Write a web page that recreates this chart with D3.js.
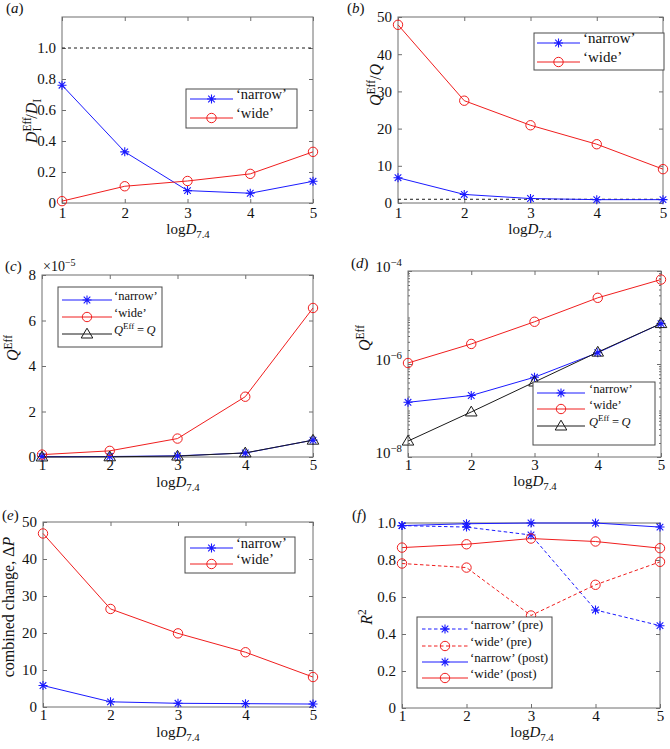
<!DOCTYPE html>
<html><head><meta charset="utf-8">
<script src="https://cdn.jsdelivr.net/npm/d3@7"></script>
<style>
body{margin:0;background:#fff}
svg{display:block}
text{font-family:"Liberation Serif","Times New Roman",serif;fill:#111}
</style>
</head><body>
<svg id="chart" width="670" height="749"></svg>
<script>
// ---------- data ----------
const xValues = [1, 2, 3, 4, 5];
const xTickLabels = ["1", "2", "3", "4", "5"];

// (a) D_I^Eff / D_I
const aNarrow = [0.76, 0.33, 0.08, 0.063, 0.14];
const aWide = [0.012, 0.108, 0.142, 0.188, 0.33];
const aRef = 1.0;
const aYTicks = [0, 0.2, 0.4, 0.6, 0.8, 1.0];
const aYTickLabels = ["0", "0.2", "0.4", "0.6", "0.8", "1.0"];

// (b) Q^Eff / Q
const bNarrow = [6.8, 2.3, 1.2, 0.9, 0.9];
const bWide = [47.9, 27.5, 20.9, 15.8, 9.1];
const bRef = 1.0;
const bYTicks = [0, 10, 20, 30, 40, 50];
const bYTickLabels = ["0", "10", "20", "30", "40", "50"];

// (c) and (d) Q^Eff
const qNarrow = [1.5e-7, 2.1e-7, 5.2e-7, 1.75e-6, 7.4e-6];
const qWide = [1.05e-6, 2.7e-6, 8.1e-6, 2.65e-5, 6.55e-5];
const qEqual = [2.2e-8, 9.3e-8, 4.1e-7, 1.8e-6, 7.4e-6];
const cYTicks = [0, 2e-5, 4e-5, 6e-5, 8e-5];
const cYTickLabels = ["0", "2", "4", "6", "8"];
const dYTicks = [1e-8, 1e-6, 1e-4];
const dYTickExponents = ["\u22128", "\u22126", "\u22124"];

// (e) combined change
const eNarrow = [5.8, 1.4, 1.0, 0.9, 0.8];
const eWide = [46.9, 26.5, 19.9, 14.8, 8.1];
const eYTicks = [0, 10, 20, 30, 40, 50];
const eYTickLabels = ["0", "10", "20", "30", "40", "50"];

// (f) R^2
const fNarrowPre = [0.986, 0.978, 0.935, 0.53, 0.445];
const fWidePre = [0.781, 0.759, 0.50, 0.666, 0.79];
const fNarrowPost = [0.986, 0.996, 1.0, 1.0, 0.978];
const fWidePost = [0.867, 0.885, 0.916, 0.90, 0.864];
const fYTicks = [0, 0.2, 0.4, 0.6, 0.8, 1.0];
const fYTickLabels = ["0", "0.2", "0.4", "0.6", "0.8", "1.0"];

// ---------- styles ----------
const BLUE = "#1a1aff", RED = "#f01e1e", BLACK = "#1a1a1a";
const FRAME = "#6e6e6e";
const svg = d3.select("#chart");

function rich(textSel, parts, size) {
  let shift = 0;
  let lastSupLen = 0;
  parts.forEach(p => {
    let target = 0, fs = size;
    if (p.sup) { target = -0.38 * size; fs = size * 0.72; }
    if (p.sub) { target = 0.28 * size; fs = size * 0.72; }
    const ts = textSel.append("tspan").text(p.t)
      .attr("dy", (target - shift).toFixed(2))
      .attr("font-size", fs.toFixed(2));
    if (p.i) ts.attr("font-style", "italic");
    if (p.stackBack) ts.attr("dx", (-lastSupLen).toFixed(2));
    if (p.advance) ts.attr("dx", p.advance);
    if (p.sup) lastSupLen = ts.node().getComputedTextLength();
    shift = target;
  });
  return textSel;
}

function marker(g, type, color, x, y) {
  if (type === "star") {
    const s = 4.5, d = 3.3;
    g.append("path")
      .attr("d", `M${x - s},${y}L${x + s},${y}M${x},${y - s}L${x},${y + s}M${x - d},${y - d}L${x + d},${y + d}M${x - d},${y + d}L${x + d},${y - d}`)
      .attr("stroke", color).attr("stroke-width", 1.1).attr("fill", "none");
    g.append("circle").attr("cx", x).attr("cy", y).attr("r", 1.3).attr("fill", color);
  } else if (type === "circle") {
    g.append("circle").attr("cx", x).attr("cy", y).attr("r", 4.7)
      .attr("stroke", color).attr("stroke-width", 1).attr("fill", "none");
  } else if (type === "tri") {
    g.append("path")
      .attr("d", `M${x},${y - 5.8}L${x + 5.8},${y + 4}L${x - 5.8},${y + 4}Z`)
      .attr("stroke", color).attr("stroke-width", 1).attr("fill", "none");
  }
}

function panel(cfg) {
  const g = svg.append("g");
  const x = d3.scaleLinear().domain([1, 5]).range([cfg.L, cfg.R]);
  const y = (cfg.log ? d3.scaleLog() : d3.scaleLinear()).domain(cfg.yDomain).range([cfg.B, cfg.T]);
  const fs = cfg.tickFont || 15;

  // frame
  g.append("rect").attr("x", cfg.L).attr("y", cfg.T)
    .attr("width", cfg.R - cfg.L).attr("height", cfg.B - cfg.T)
    .attr("fill", "none").attr("stroke", FRAME).attr("stroke-width", 1);

  // bottom axis
  const xb = g.append("g").attr("transform", `translate(0,${cfg.B})`)
    .call(d3.axisBottom(x).tickValues(xValues).tickSize(-4).tickPadding(cfg.xPad)
      .tickFormat((d, i) => xTickLabels[i]));
  g.append("g").attr("transform", `translate(0,${cfg.T})`)
    .call(d3.axisTop(x).tickValues(xValues).tickSize(-4).tickFormat(""));
  // left axis
  const yl = g.append("g").attr("transform", `translate(${cfg.L},0)`)
    .call(d3.axisLeft(y).tickValues(cfg.yTicks).tickSize(-4).tickPadding(6)
      .tickFormat(cfg.yLabels ? (d, i) => cfg.yLabels[i] : ""));
  g.append("g").attr("transform", `translate(${cfg.R},0)`)
    .call(d3.axisRight(y).tickValues(cfg.yTicks).tickSize(-4).tickFormat(""));
  if (cfg.minorTicks) {
    g.append("g").attr("transform", `translate(${cfg.L},0)`)
      .call(d3.axisLeft(y).tickValues(cfg.minorTicks).tickSize(-2).tickFormat(""));
    g.append("g").attr("transform", `translate(${cfg.R},0)`)
      .call(d3.axisRight(y).tickValues(cfg.minorTicks).tickSize(-2).tickFormat(""));
  }
  g.selectAll(".domain").remove();
  g.selectAll(".tick line").attr("stroke", FRAME);
  g.selectAll(".tick text").attr("font-size", fs).attr("font-family", "Liberation Serif, serif").attr("fill", "#111");
  xb.selectAll(".tick text").attr("dy", "0.75em");

  if (cfg.expLabels) {
    yl.selectAll(".tick text").each(function (d, i) {
      const t = d3.select(this).text("");
      rich(t, [{ t: "10" }, { t: cfg.expLabels[i], sup: true }], fs);
      t.attr("dy", "0.5em");
    });
  }

  // reference line
  if (cfg.ref !== undefined) {
    g.append("line").attr("x1", cfg.L).attr("x2", cfg.R)
      .attr("y1", y(cfg.ref)).attr("y2", y(cfg.ref))
      .attr("stroke", BLACK).attr("stroke-width", 1).attr("stroke-dasharray", "3,3");
  }

  // series
  const line = d3.line().x((d, i) => x(xValues[i])).y(d => y(d));
  cfg.series.forEach(s => {
    g.append("path").attr("d", line(s.values)).attr("fill", "none")
      .attr("stroke", s.color).attr("stroke-width", 1)
      .attr("stroke-dasharray", s.dash ? "3.5,2.5" : null);
  });
  cfg.series.forEach(s => {
    s.values.forEach((v, i) => marker(g, s.marker, s.color, x(xValues[i]), y(v)));
  });

  // legend
  const lg = cfg.legend;
  g.append("rect").attr("x", lg.x).attr("y", lg.y).attr("width", lg.w).attr("height", lg.h)
    .attr("fill", "#fff").attr("stroke", "#4a4a4a").attr("stroke-width", 1);
  cfg.series.forEach((s, i) => {
    const ry = lg.rows[i];
    g.append("line").attr("x1", lg.lx0).attr("x2", lg.lx1).attr("y1", ry).attr("y2", ry)
      .attr("stroke", s.color).attr("stroke-width", 1)
      .attr("stroke-dasharray", s.dash ? "3.5,2.5" : null);
    marker(g, s.marker, s.color, (lg.lx0 + lg.lx1) / 2, ry);
    const t = g.append("text").attr("x", lg.tx).attr("y", ry).attr("dy", "0.33em")
      .attr("font-size", lg.fs);
    rich(t, s.label, lg.fs);
  });

  // x label
  const xlab = g.append("text").attr("x", cfg.xLab[0]).attr("y", cfg.xLab[1])
    .attr("text-anchor", "middle");
  rich(xlab, [{ t: "log" }, { t: "D", i: true }, { t: "7.4", sub: true }], cfg.labFont || 15);

  // y label
  const ylab = g.append("text").attr("transform", `translate(${cfg.yLab[0]},${cfg.yLab[1]}) rotate(-90)`)
    .attr("text-anchor", "middle");
  rich(ylab, cfg.yLabParts, cfg.yLabFont || 16);

  // panel tag
  const tag = g.append("text").attr("x", cfg.tag[0]).attr("y", cfg.tag[1]).attr("font-size", 15);
  tag.append("tspan").text("(");
  tag.append("tspan").text(cfg.tagLetter).attr("font-style", "italic");
  tag.append("tspan").text(")");
  return { g, x, y };
}

const narrowLbl = [{ t: "\u2018narrow\u2019" }];
const wideLbl = [{ t: "\u2018wide\u2019" }];
const qLbl = [{ t: "Q", i: true }, { t: "Eff", sup: true }, { t: "\u2009=\u2009" }, { t: "Q", i: true }];

// (a)
panel({
  L: 62, R: 313, T: 17, B: 203, yDomain: [0, 1.2], yTicks: aYTicks, yLabels: aYTickLabels,
  ref: aRef, xPad: 4,
  series: [
    { values: aNarrow, color: BLUE, marker: "star", label: narrowLbl },
    { values: aWide, color: RED, marker: "circle", label: wideLbl }
  ],
  legend: { x: 186, y: 89, w: 111, h: 39, rows: [99, 118], lx0: 190, lx1: 233, tx: 236, fs: 14.5 },
  xLab: [188, 234], yLab: [37, 121],
  yLabParts: [{ t: "D", i: true }, { t: "Eff", sup: true }, { t: "I", sub: true, stackBack: true }, { t: "/", advance: 9 }, { t: "D", i: true }, { t: "I", sub: true }],
  tag: [6, 13], tagLetter: "a"
});

// (b)
panel({
  L: 398, R: 663, T: 17, B: 203, yDomain: [0, 50], yTicks: bYTicks, yLabels: bYTickLabels,
  ref: bRef, xPad: 4,
  series: [
    { values: bNarrow, color: BLUE, marker: "star", label: narrowLbl },
    { values: bWide, color: RED, marker: "circle", label: wideLbl }
  ],
  legend: { x: 534, y: 33, w: 130, h: 37, rows: [43, 62], lx0: 537, lx1: 580, tx: 583, fs: 15 },
  xLab: [530, 234], yLab: [381, 85],
  yLabParts: [{ t: "Q", i: true }, { t: "Eff", sup: true }, { t: "/" }, { t: "Q", i: true }],
  tag: [347, 13], tagLetter: "b"
});

// (c)
panel({
  L: 42, R: 313, T: 275, B: 457, yDomain: [0, 8e-5], yTicks: cYTicks, yLabels: cYTickLabels,
  xPad: 2,
  series: [
    { values: qNarrow, color: BLUE, marker: "star", label: narrowLbl },
    { values: qWide, color: RED, marker: "circle", label: wideLbl },
    { values: qEqual, color: BLACK, marker: "tri", label: qLbl }
  ],
  legend: { x: 58, y: 287, w: 104, h: 60, rows: [300, 317, 334], lx0: 62, lx1: 112, tx: 114, fs: 12.5 },
  xLab: [178, 487], yLab: [18, 348],
  yLabParts: [{ t: "Q", i: true }, { t: "Eff", sup: true }],
  tag: [5, 271], tagLetter: "c"
});
{
  const t = svg.append("text").attr("x", 43).attr("y", 271).attr("font-size", 14);
  rich(t, [{ t: "\u00d710" }, { t: "\u22125", sup: true }], 14);
}

// (d)
const minorD = [];
[-8, -7, -6, -5].forEach(e => { for (let k = 2; k <= 9; k++) minorD.push(k * Math.pow(10, e)); });
minorD.push(1e-7, 1e-5);
panel({
  L: 408, R: 661, T: 271, B: 457, log: true, yDomain: [1e-8, 1e-4], yTicks: dYTicks,
  yLabels: ["", "", ""], expLabels: dYTickExponents, minorTicks: minorD, xPad: 2,
  series: [
    { values: qNarrow, color: BLUE, marker: "star", label: narrowLbl },
    { values: qWide, color: RED, marker: "circle", label: wideLbl },
    { values: qEqual, color: BLACK, marker: "tri", label: qLbl }
  ],
  legend: { x: 533, y: 382, w: 122, h: 63, rows: [393, 409, 426], lx0: 537, lx1: 585, tx: 589, fs: 12.5 },
  xLab: [535, 486], yLab: [370, 338],
  yLabParts: [{ t: "Q", i: true }, { t: "Eff", sup: true }],
  tag: [351, 268], tagLetter: "d"
});

// (e)
panel({
  L: 43, R: 313, T: 522, B: 707, yDomain: [0, 50], yTicks: eYTicks, yLabels: eYTickLabels,
  xPad: 2,
  series: [
    { values: eNarrow, color: BLUE, marker: "star", label: narrowLbl },
    { values: eWide, color: RED, marker: "circle", label: wideLbl }
  ],
  legend: { x: 185, y: 537, w: 110, h: 36, rows: [548, 564], lx0: 190, lx1: 233, tx: 236, fs: 14.5 },
  xLab: [178, 737], yLab: [14, 607],
  yLabParts: [{ t: "combined change, \u0394" }, { t: "P", i: true }],
  tag: [2, 520], tagLetter: "e"
});

// (f)
panel({
  L: 402, R: 660, T: 523, B: 708, yDomain: [0, 1], yTicks: fYTicks, yLabels: fYTickLabels,
  xPad: 2,
  series: [
    { values: fNarrowPre, color: BLUE, marker: "star", dash: true, label: [{ t: "\u2018narrow\u2019 (pre)" }] },
    { values: fWidePre, color: RED, marker: "circle", dash: true, label: [{ t: "\u2018wide\u2019 (pre)" }] },
    { values: fNarrowPost, color: BLUE, marker: "star", label: [{ t: "\u2018narrow\u2019 (post)" }] },
    { values: fWidePost, color: RED, marker: "circle", label: [{ t: "\u2018wide\u2019 (post)" }] }
  ],
  legend: { x: 417, y: 617, w: 135, h: 71, rows: [629, 646, 662, 678], lx0: 422, lx1: 468, tx: 470, fs: 13 },
  xLab: [532, 737], yLab: [372, 617],
  yLabParts: [{ t: "R", i: true }, { t: "2", sup: true }],
  tag: [352, 520], tagLetter: "f"
});
</script>
</body></html>
